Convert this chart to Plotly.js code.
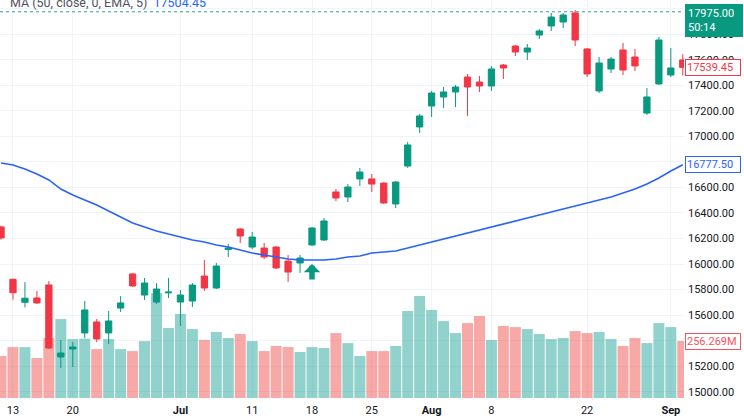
<!DOCTYPE html>
<html><head><meta charset="utf-8">
<script src="https://cdn.plot.ly/plotly-3.0.1.min.js"></script>
<style>html,body{margin:0;padding:0;background:#fff}#chart{width:744px;height:420px}</style>
</head><body><div id="chart"></div>
<script>
const dates = ['2022-06-10','2022-06-13','2022-06-14','2022-06-15','2022-06-16','2022-06-17','2022-06-20','2022-06-21','2022-06-22','2022-06-23','2022-06-24','2022-06-27','2022-06-28','2022-06-29','2022-06-30',
'2022-07-01','2022-07-04','2022-07-05','2022-07-06','2022-07-07','2022-07-08','2022-07-11','2022-07-12','2022-07-13','2022-07-14','2022-07-15','2022-07-18','2022-07-19','2022-07-20','2022-07-21','2022-07-22','2022-07-25','2022-07-26','2022-07-27','2022-07-28','2022-07-29',
'2022-08-01','2022-08-02','2022-08-03','2022-08-04','2022-08-05','2022-08-08','2022-08-10','2022-08-11','2022-08-12','2022-08-16','2022-08-17','2022-08-18','2022-08-19','2022-08-22','2022-08-23','2022-08-24','2022-08-25','2022-08-26','2022-08-29','2022-08-30',
'2022-09-01','2022-09-02'];
const openP  = [16290,15880,15700,15734,15836,15272,15334,15460,15546,15460,15655,15922,15757,15702,15774,
15702,15710,15906,15812,16113,16274,16133,16125,16133,16023,16008,16149,16188,16564,16525,16666,16666,16634,16470,16767,17073,
17237,17308,17347,17464,17425,17394,17558,17707,17660,17793,17864,17895,17966,17684,17355,17527,17676,17621,17182,17410,
17480,17598];
const highP  = [16300,15886,15858,15789,15867,15405,15389,15710,15569,15632,15749,15930,15890,15850,15890,
15796,15851,16031,16008,16157,16282,16251,16164,16141,16070,16070,16290,16360,16587,16626,16752,16705,16640,16650,16955,17175,
17355,17386,17402,17488,17472,17550,17566,17715,17723,17840,17966,17966,17989,17690,17621,17621,17731,17684,17378,17778,
17691,17643];
const lowP   = [16190,15720,15660,15687,15334,15186,15193,15421,15389,15374,15624,15820,15718,15688,15734,
15514,15663,15789,15804,16055,16164,16117,16039,15961,15859,15930,16140,16180,16493,16486,16611,16564,16470,16438,16752,17026,
17151,17221,17229,17159,17347,17355,17449,17629,17597,17762,17825,17848,17707,17464,17339,17496,17480,17511,17167,17402,
17464,17476];
const closeP = [16204,15775,15732,15695,15342,15303,15350,15640,15413,15554,15695,15828,15851,15804,15780,
15757,15835,15812,15984,16125,16219,16211,16055,15969,15937,16047,16282,16337,16517,16603,16720,16626,16478,16642,16932,17159,
17339,17347,17386,17386,17394,17527,17535,17660,17691,17825,17934,17950,17754,17488,17574,17605,17519,17551,17308,17754,
17535,17539.45];
const volumeM = [189,229,229,180,270,355,265,267,220,265,220,211,256,472,315,
378,310,261,297,270,288,256,211,234,229,207,229,225,292,247,189,211,211,234,391,459,
396,346,292,337,369,261,324,319,310,288,265,270,301,292,297,265,234,270,247,337,
319,256.269];
const ema50 = [16791,16775,16744,16705,16658,16587,16540,16501,16462,16415,16368,16321,16290,16258,16235,
16211,16188,16172,16149,16133,16110,16086,16070,16055,16039,16031,16031,16031,16039,16055,16063,16086,16094,16102,16125,16149,
16172,16196,16219,16243,16266,16290,16313,16337,16360,16384,16407,16431,16454,16478,16501,16525,16556,16587,16626,16673,
16728,16777.5];
const tickDates = ['2022-06-13','2022-06-20','2022-07-01','2022-07-11','2022-07-18','2022-07-25','2022-08-01','2022-08-08','2022-08-22','2022-09-01'];
const tickLabels = ['13','20','<b>Jul</b>','11','18','25','<b>Aug</b>','8','22','<b>Sep</b>'];
const priceTicks = [15000,15200,15400,15600,15800,16000,16200,16400,16600,16800,17000,17200,17400,17600,17800,18000];
const markerPrice = 17975.00;
const countdown = '50:14';
const emaLegendValue = '17504.45';
const emaLabel = 'MA (50, close, 0, EMA, 5)';
const signalDates = ['2022-07-18'];
const signalPrices = [16000];

const UP = '#089981', DOWN = '#f23645';
const volColors = closeP.map((c, i) => c >= openP[i] ? 'rgba(38,166,154,0.5)' : 'rgba(239,83,80,0.5)');
const lastI = dates.length - 1;
const FONT = 'Roboto, "Open Sans", sans-serif';

const traces = [
  {type:'bar', x:dates, y:volumeM, xaxis:'x', yaxis:'y', marker:{color:volColors, line:{width:0}}, hoverinfo:'none'},
  {type:'scatter', mode:'lines', x:dates, y:ema50, xaxis:'x', yaxis:'y2', line:{color:'#2962ff', width:1.6}, hoverinfo:'none'},
  {type:'candlestick', x:dates, open:openP, high:highP, low:lowP, close:closeP, xaxis:'x', yaxis:'y2',
   increasing:{line:{color:UP, width:1}, fillcolor:UP}, decreasing:{line:{color:DOWN, width:1}, fillcolor:DOWN},
   whiskerwidth:0, hoverinfo:'none'}
];

const annotations = [
  {xref:'paper', yref:'paper', x:0.012, y:1 - 2/398, xanchor:'left', yanchor:'middle', showarrow:false,
   text:'<span style="color:#50535e">'+emaLabel+'</span>  <span style="color:#2962ff">'+emaLegendValue+'</span>',
   font:{family:FONT, size:12.5}},
  {xref:'paper', yref:'y2', x:1, y:markerPrice, xanchor:'left', yanchor:'top', yshift:8, xshift:1, showarrow:false,
   text:markerPrice.toFixed(2)+'<br>'+countdown, align:'left', bgcolor:UP, bordercolor:UP, borderpad:2, width:52,
   font:{family:FONT, size:11, color:'#ffffff'}},
  {xref:'paper', yref:'y2', x:1, y:closeP[lastI], xanchor:'left', yanchor:'middle', xshift:1, showarrow:false,
   text:closeP[lastI].toFixed(2), align:'left', bgcolor:'#ffffff', bordercolor:DOWN, borderpad:1, width:52,
   font:{family:FONT, size:11, color:DOWN}},
  {xref:'paper', yref:'y2', x:1, y:ema50[lastI], xanchor:'left', yanchor:'middle', xshift:1, showarrow:false,
   text:ema50[lastI].toFixed(2), align:'left', bgcolor:'#ffffff', bordercolor:'#2962ff', borderpad:1, width:52,
   font:{family:FONT, size:11, color:'#2962ff'}},
  {xref:'paper', yref:'y', x:1, y:volumeM[lastI], xanchor:'left', yanchor:'middle', xshift:1, showarrow:false,
   text:volumeM[lastI].toFixed(3)+'M', align:'left', bgcolor:'#ffffff', bordercolor:'#f7525f', borderpad:1, width:52,
   font:{family:FONT, size:11, color:'#f7525f'}}
];
signalDates.forEach((d, k) => annotations.push({
  xref:'x', yref:'y2', x:d, y:signalPrices[k], showarrow:true, ax:0, ay:17,
  arrowhead:1, arrowsize:0.5, arrowwidth:5.5, arrowcolor:UP, standoff:0, text:''
}));

const layout = {
  width:744, height:420, margin:{l:0, r:60, t:0, b:22},
  paper_bgcolor:'#ffffff', plot_bgcolor:'#ffffff', showlegend:false, boxgap:0.25, bargap:0.08,
  font:{family:FONT, size:11, color:'#131722'},
  xaxis:{type:'category', range:[-0.085, 57.1], tickvals:tickDates, ticktext:tickLabels, showgrid:true, gridcolor:'#f0f3fa',
    zeroline:false, showline:false, ticks:'', ticklabelstandoff:4, tickfont:{family:FONT, size:11, color:'#131722'}, rangeslider:{visible:false}, fixedrange:true},
  yaxis:{range:[0, 1790], visible:false, showgrid:false, fixedrange:true},
  yaxis2:{overlaying:'y', side:'right', range:[14950.7, 18067.3], tickvals:priceTicks, tickformat:'.2f', showgrid:true, gridcolor:'#f0f3fa',
    zeroline:false, showline:false, ticks:'', ticklabelstandoff:3, tickfont:{family:FONT, size:11, color:'#131722'}, fixedrange:true},
  shapes:[{type:'line', xref:'paper', x0:0, x1:1, yref:'y2', y0:markerPrice, y1:markerPrice, line:{color:'#26a69a', width:1, dash:'dot'}}],
  annotations:annotations
};
Plotly.newPlot('chart', traces, layout, {displayModeBar:false, staticPlot:true});
</script></body></html>
